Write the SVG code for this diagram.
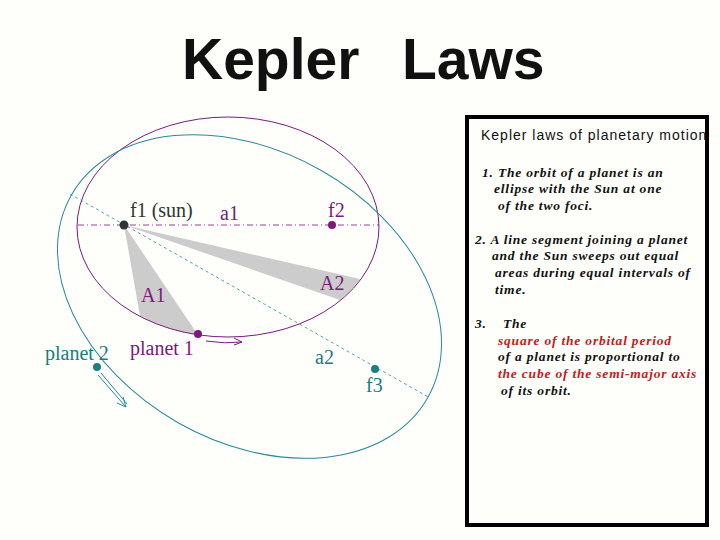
<svg xmlns="http://www.w3.org/2000/svg" width="720" height="540" viewBox="0 0 720 540">
<defs>
<style>
.pu{fill:#7a1a7a;font-family:"Liberation Serif",serif;font-size:20px}
.te{fill:#1a7a80;font-family:"Liberation Serif",serif;font-size:20px}
.it{font-family:"Liberation Serif",serif;font-style:italic;font-weight:bold;font-size:13.5px;letter-spacing:0.8px;fill:#111}
.rd{fill:#c02020}
</style>
<clipPath id="bc"><rect x="469" y="119" width="236" height="404"/></clipPath>
</defs>
<rect width="720" height="540" fill="#fefefa"/>
<g id="title" font-family="Liberation Sans,Arial,sans-serif" font-size="57" font-weight="bold" fill="#111">
<text x="182" y="79">Kepler</text><text x="402" y="79">Laws</text>
</g>
<g id="orbits">
<path d="M124,225 L140,316 A150,110 0 0 0 198,335 Z" fill="#cccccc"/>
<path d="M124,225 L360,279 A150,110 0 0 1 340,300 Z" fill="#cccccc"/>
<ellipse cx="228" cy="227" rx="151" ry="110" fill="none" stroke="#7a1a7a" stroke-width="1"/>
<ellipse cx="249.5" cy="296.5" rx="205" ry="145" transform="rotate(29.7 249.5 296.5)" fill="none" stroke="#2a8a9a" stroke-width="1"/>
<line x1="78" y1="225" x2="379" y2="225" stroke="#7a1a7a" stroke-width="0.8" stroke-dasharray="6,3,1,3"/>
<line x1="70" y1="194" x2="430" y2="398" stroke="#2a8a9a" stroke-width="0.8" stroke-dasharray="3,3"/>
</g>
<g id="connectors">
<path d="M206,341 Q225,344 242,342" fill="none" stroke="#7a1a7a" stroke-width="1"/>
<path d="M234,338 L242,342 L234,345" fill="none" stroke="#7a1a7a" stroke-width="1"/>
<path d="M98,375 L125,406 M101,373 L127,404" fill="none" stroke="#2a8a9a" stroke-width="1"/>
<path d="M117,403 L126,407 L123,397" fill="none" stroke="#2a8a9a" stroke-width="1"/>
</g>
<g id="f1"><circle cx="124" cy="225" r="4.5" fill="#333"/><text x="130" y="217" class="pu" style="fill:#333">f1 (sun)</text></g>
<g id="f2"><circle cx="332" cy="225" r="4" fill="#7a1a7a"/><text x="328" y="217" class="pu">f2</text></g>
<g id="a1"><text x="220" y="220" class="pu">a1</text></g>
<g id="A1"><text x="141" y="302" class="pu">A1</text></g>
<g id="A2"><text x="320" y="290" class="pu">A2</text></g>
<g id="planet1"><circle cx="198" cy="334" r="4" fill="#7a1a7a"/><text x="130" y="355" class="pu">planet 1</text></g>
<g id="planet2"><circle cx="97" cy="367" r="4" fill="#1a8080"/><text x="45" y="360" class="te">planet 2</text></g>
<g id="a2"><text x="315" y="364" class="te">a2</text></g>
<g id="f3"><circle cx="375" cy="369" r="4" fill="#1a8080"/><text x="366" y="392" class="te">f3</text></g>
<g id="box">
<rect x="467" y="117" width="240" height="408" fill="#fefefa" stroke="#000" stroke-width="4"/>
<g clip-path="url(#bc)">
<text x="481" y="140" font-family="Liberation Sans,Arial,sans-serif" font-size="14" letter-spacing="1" fill="#111">Kepler laws of planetary motion</text>
<text class="it"><tspan x="482" y="177">1. The orbit of a planet is an</tspan><tspan x="494" y="193">ellipse with the Sun at one</tspan><tspan x="498" y="210">of the two foci.</tspan>
<tspan x="475" y="244">2.  A line segment joining a planet</tspan><tspan x="492" y="260">and the Sun sweeps out equal</tspan><tspan x="495" y="277">areas during equal intervals of</tspan><tspan x="495" y="294">time.</tspan>
<tspan x="475" y="328">3.</tspan><tspan x="503" y="328">The</tspan><tspan x="498" y="345" class="rd">square of the orbital period</tspan><tspan x="498" y="361">of a planet is proportional to</tspan><tspan x="498" y="378" class="rd">the cube of the semi-major axis</tspan><tspan x="501" y="395">of its orbit.</tspan></text>
</g>
</g>
</svg>
